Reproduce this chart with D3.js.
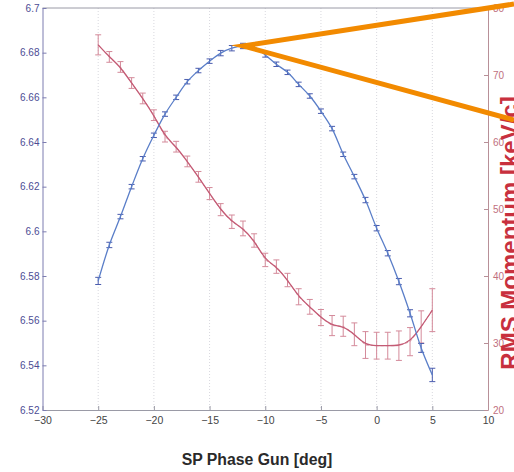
<!DOCTYPE html>
<html><head><meta charset="utf-8">
<script src="https://cdn.jsdelivr.net/npm/d3@7"></script>
<style>
html,body{margin:0;padding:0;background:#fff;}
svg{display:block;}
text{font-family:"Liberation Sans",Arial,Helvetica,sans-serif;}
</style></head>
<body>
<script>
// ---- data ----
const phase = [-25,-24,-23,-22,-21,-20,-19,-18,-17,-16,-15,-14,-13,-12,-11,-10,-9,-8,-7,-6,-5,-4,-3,-2,-1,0,1,2,3,4,5];
const momentum = [6.5778,6.5939,6.6066,6.6200,6.6325,6.6430,6.6525,6.6600,6.6670,6.6720,6.6762,6.6798,6.6820,6.6830,6.6825,6.6790,6.6748,6.6712,6.6658,6.6606,6.6538,6.6460,6.6345,6.6245,6.6140,6.6014,6.5902,6.5775,6.5633,6.5478,6.5357];
const momentumErr = [0.0016,0.0012,0.0010,0.0010,0.0010,0.0010,0.0010,0.0010,0.0010,0.0010,0.0010,0.0012,0.0012,0.0012,0.0010,0.0010,0.0010,0.0010,0.0010,0.0010,0.0010,0.0010,0.0010,0.0010,0.0012,0.0012,0.0012,0.0014,0.0016,0.0020,0.0030];
const rmsMomentum = [74.5,72.7,71.2,68.8,66.5,64.0,60.8,59.3,57.1,54.8,52.3,49.9,48.1,47.1,45.3,42.4,41.4,39.4,36.9,35.4,33.8,32.6,32.5,31.3,29.7,29.6,29.6,29.6,30.2,32.4,34.9];
const rmsErr = [1.5,0.8,0.8,0.8,0.8,0.8,0.8,0.8,0.8,0.8,0.9,0.9,1.0,1.1,1.0,1.0,1.0,1.0,1.2,1.1,1.2,1.5,1.5,1.7,2.0,2.0,2.0,2.2,2.1,2.4,3.2];
const xTicks = [-30,-25,-20,-15,-10,-5,0,5,10];
const leftTicks = [6.52,6.54,6.56,6.58,6.6,6.62,6.64,6.66,6.68,6.7];
const leftTickLabels = ["6.52","6.54","6.56","6.58","6.6","6.62","6.64","6.66","6.68","6.7"];
const rightTicks = [20,30,40,50,60,70,80];
const xLabel = "SP Phase Gun [deg]";
const rightLabel = "RMS Momentum [keV/c]";

// ---- layout ----
const W = 514, H = 472;
const m = {left: 42.5, right: 488, top: 8, bottom: 410};
const svg = d3.select("body").append("svg").attr("width", W).attr("height", H);

const x = d3.scaleLinear().domain([-30, 10]).range([m.left, m.right]);
const yL = d3.scaleLinear().domain([6.52, 6.7]).range([m.bottom, m.top]);
const yR = d3.scaleLinear().domain([20, 80]).range([m.bottom, m.top]);

// vertical dotted grid
svg.append("g").selectAll("line").data(xTicks.slice(1, -1)).join("line")
  .attr("x1", d => x(d)).attr("x2", d => x(d))
  .attr("y1", m.top).attr("y2", m.bottom)
  .attr("stroke", "#d8d8de").attr("stroke-width", 1).attr("stroke-dasharray", "1,2");

// top border
svg.append("line").attr("x1", m.left).attr("x2", m.right).attr("y1", m.top).attr("y2", m.top)
  .attr("stroke", "#9a9aa6").attr("stroke-width", 1);

// bottom axis
const gx = svg.append("g").attr("transform", `translate(0,${m.bottom})`)
  .call(d3.axisBottom(x).tickValues(xTicks).tickSizeInner(-4).tickSizeOuter(0).tickPadding(7));
gx.select(".domain").attr("stroke", "#9a9aa6");
gx.selectAll(".tick line").attr("stroke", "#9a9aa6");
gx.selectAll("text").attr("fill", "#444").attr("font-size", 10.5).attr("font-family", "Liberation Sans, Arial, sans-serif");

// left axis
const gl = svg.append("g").attr("transform", `translate(${m.left},0)`)
  .call(d3.axisLeft(yL).tickValues(leftTicks).tickFormat((d, i) => leftTickLabels[i]).tickSizeInner(-4).tickSizeOuter(0).tickPadding(3));
gl.select(".domain").attr("stroke", "#7c7cb0");
gl.selectAll(".tick line").attr("stroke", "#7c7cb0");
gl.selectAll("text").attr("fill", "#4c4c94").attr("font-size", 10).attr("font-family", "Liberation Sans, Arial, sans-serif");

// right axis
const gr = svg.append("g").attr("transform", `translate(${m.right},0)`)
  .call(d3.axisRight(yR).tickValues(rightTicks).tickSizeInner(-4).tickSizeOuter(0).tickPadding(5));
gr.select(".domain").attr("stroke", "#b89098");
gr.selectAll(".tick line").attr("stroke", "#b89098");
gr.selectAll("text").attr("fill", "#c0707e").attr("font-size", 10).attr("font-family", "Liberation Sans, Arial, sans-serif");

// data rows
const rows = phase.map((p, i) => ({p, m: momentum[i], me: momentumErr[i], r: rmsMomentum[i], re: rmsErr[i]}));

// red series: dashed connection, error bars, smooth curve
svg.append("path").datum(rows)
  .attr("d", d3.line().x(d => x(d.p)).y(d => yR(d.r)))
  .attr("fill", "none").attr("stroke", "#d89aa8").attr("stroke-width", 1).attr("stroke-dasharray", "3,2");
const redEb = svg.append("g").attr("stroke", "#d48a9a").attr("stroke-width", 1).attr("fill", "none");
redEb.selectAll("path").data(rows).join("path")
  .attr("d", d => {
    const cx = x(d.p), t = yR(d.r + d.re), b = yR(d.r - d.re), c = 3;
    return `M${cx},${t}V${b}M${cx - c},${t}H${cx + c}M${cx - c},${b}H${cx + c}`;
  });
svg.append("path").datum(rows)
  .attr("d", d3.line().x(d => x(d.p)).y(d => yR(d.r)).curve(d3.curveBasis))
  .attr("fill", "none").attr("stroke", "#c45a74").attr("stroke-width", 1.3);

// blue series
const blueEb = svg.append("g").attr("stroke", "#4a5cae").attr("stroke-width", 1).attr("fill", "none");
blueEb.selectAll("path").data(rows).join("path")
  .attr("d", d => {
    const cx = x(d.p), t = yL(d.m + d.me), b = yL(d.m - d.me), c = 3;
    return `M${cx},${t}V${b}M${cx - c},${t}H${cx + c}M${cx - c},${b}H${cx + c}`;
  });
svg.append("path").datum(rows)
  .attr("d", d3.line().x(d => x(d.p)).y(d => yL(d.m)).curve(d3.curveCatmullRom))
  .attr("fill", "none").attr("stroke", "#5a7ec8").attr("stroke-width", 1.3);

// x label
svg.append("text").attr("x", 257).attr("y", 465).attr("text-anchor", "middle")
  .attr("font-size", 15.8).attr("font-weight", "bold").attr("fill", "#2a2a2a").text(xLabel);

// right label (cut off by the window edge)
svg.append("text").attr("transform", `translate(518,233) rotate(-90)`).attr("text-anchor", "middle")
  .attr("font-size", 24).attr("font-weight", "bold").attr("fill", "#c8303e").text(rightLabel);

// orange pointer lines at the momentum peak
const iPeak = momentum.indexOf(d3.max(momentum));
const ax = x(phase[iPeak]), ay = yL(momentum[iPeak]);
svg.append("path")
  .attr("d", `M${W},4 L${ax},${ay} L${W},120`)
  .attr("fill", "none").attr("stroke", "#f28a00").attr("stroke-width", 5).attr("stroke-linejoin", "miter").attr("stroke-miterlimit", 10);
</script>
</body></html>
